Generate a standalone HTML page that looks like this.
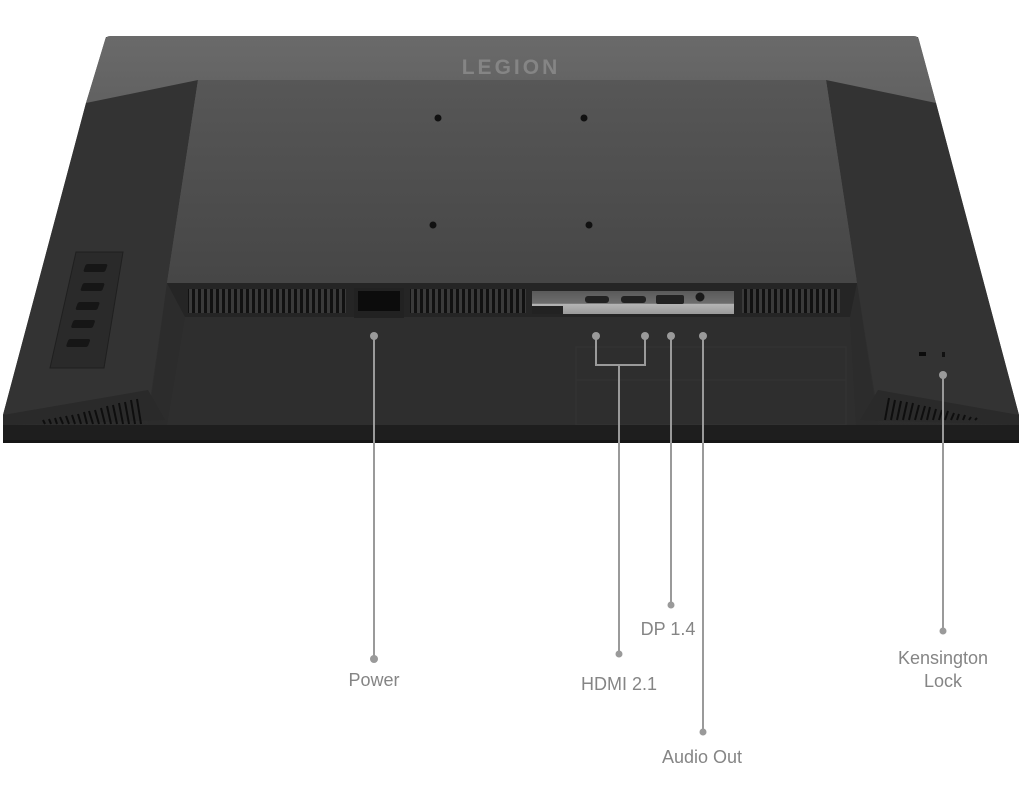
<!DOCTYPE html>
<html><head><meta charset="utf-8"><style>
html,body{margin:0;padding:0;background:#fff;}
svg{display:block}
text{font-family:"Liberation Sans",sans-serif;fill:#858585;font-size:18px;}
</style></head><body>
<svg width="1024" height="800" viewBox="0 0 1024 800" xmlns="http://www.w3.org/2000/svg">
<defs>
<linearGradient id="top" x1="0" y1="0" x2="0" y2="1"><stop offset="0" stop-color="#6a6a6a"/><stop offset="1" stop-color="#4a4a4a"/></linearGradient>
<linearGradient id="plate" x1="0" y1="0" x2="0" y2="1"><stop offset="0" stop-color="#575757"/><stop offset="1" stop-color="#464646"/></linearGradient>
<linearGradient id="side" x1="0" y1="0" x2="0" y2="1"><stop offset="0" stop-color="#3a3a3a"/><stop offset="1" stop-color="#2c2c2c"/></linearGradient>
<linearGradient id="plug" x1="0" y1="0" x2="0" y2="1"><stop offset="0" stop-color="#5a5a5a"/><stop offset="0.55" stop-color="#6e6e6e"/><stop offset="0.56" stop-color="#b5b5b5"/><stop offset="1" stop-color="#9a9a9a"/></linearGradient>
<pattern id="vent" width="6" height="40" patternUnits="userSpaceOnUse"><rect width="6" height="40" fill="#3a3a3a"/><rect width="3" height="40" fill="#111"/></pattern>
</defs>
<polygon points="106,37 918,37 936,103 1019,415 1019,442 3,442 3,415 86,103" fill="url(#side)"/>
<path d="M110,36 L914,36 Q918,36 919,40 L936,103 L855,283 L167,283 L86,103 L105,40 Q106,36 110,36Z" fill="url(#top)"/>
<polygon points="86,103 198,80 167,283 148,415 3,415" fill="#333"/>
<polygon points="936,103 826,80 857,283 878,415 1019,415" fill="#333"/>
<polygon points="198,80 826,80 857,283 167,283" fill="url(#plate)"/>
<text x="511" y="74" text-anchor="middle" style="font-size:21px;font-weight:bold;letter-spacing:3px;fill:#858585">LEGION</text>
<circle cx="438" cy="118" r="3.5" fill="#111"/><circle cx="584" cy="118" r="3.5" fill="#111"/>
<circle cx="433" cy="225" r="3.5" fill="#111"/><circle cx="589" cy="225" r="3.5" fill="#111"/>
<polygon points="167,283 857,283 878,425 148,425" fill="#2c2c2c"/>
<polygon points="167,283 857,283 850,317 185,317" fill="#252525"/>
<polygon points="185,317 850,317 856,425 167,425" fill="#2e2e2e"/>
<rect x="576" y="347" width="270" height="78" fill="none" stroke="#343434"/>
<line x1="576" y1="380" x2="846" y2="380" stroke="#343434"/>
<rect x="188" y="289" width="158" height="24" fill="url(#vent)"/>
<rect x="410" y="289" width="116" height="24" fill="url(#vent)"/>
<rect x="742" y="289" width="98" height="24" fill="url(#vent)"/>
<rect x="354" y="288" width="50" height="30" fill="#222"/>
<rect x="358" y="291" width="42" height="20" fill="#0c0c0c"/>
<rect x="532" y="291" width="202" height="23" fill="url(#plug)"/>
<rect x="532" y="306" width="31" height="8" fill="#222"/>
<rect x="585" y="296" width="24" height="7" rx="3" fill="#222"/>
<rect x="621" y="296" width="25" height="7" rx="3" fill="#222"/>
<rect x="656" y="295" width="28" height="9" rx="2" fill="#222"/>
<circle cx="700" cy="297" r="4.5" fill="#1a1a1a"/>
<polygon points="3,415 148,390 165,420 3,425" fill="#2a2a2a"/>
<g stroke="#0e0e0e" stroke-width="2">
<line x1="45" y1="424" x2="43" y2="420"/><line x1="51" y1="424" x2="49" y2="419"/><line x1="57" y1="424" x2="55" y2="418"/><line x1="63" y1="424" x2="60" y2="417"/><line x1="69" y1="424" x2="66" y2="416"/><line x1="75" y1="424" x2="72" y2="415"/><line x1="81" y1="424" x2="78" y2="414"/><line x1="87" y1="424" x2="84" y2="412"/><line x1="93" y1="424" x2="89" y2="411"/><line x1="99" y1="424" x2="95" y2="410"/><line x1="105" y1="424" x2="101" y2="408"/><line x1="111" y1="424" x2="107" y2="406"/><line x1="117" y1="424" x2="113" y2="405"/><line x1="123" y1="424" x2="119" y2="403"/><line x1="129" y1="424" x2="125" y2="402"/><line x1="135" y1="424" x2="131" y2="400"/><line x1="141" y1="424" x2="137" y2="399"/>
</g>
<polygon points="1019,415 878,390 860,420 1019,425" fill="#2a2a2a"/>
<g stroke="#0e0e0e" stroke-width="2">
<line x1="885" y1="420" x2="889" y2="398"/><line x1="891" y1="420" x2="895" y2="400"/><line x1="897" y1="420" x2="901" y2="401"/><line x1="903" y1="420" x2="907" y2="402"/><line x1="909" y1="420" x2="913" y2="403"/><line x1="915" y1="420" x2="919" y2="405"/><line x1="921" y1="420" x2="925" y2="406"/><line x1="927" y1="420" x2="930" y2="407"/><line x1="933" y1="420" x2="936" y2="409"/><line x1="939" y1="420" x2="942" y2="410"/><line x1="945" y1="420" x2="948" y2="411"/><line x1="951" y1="420" x2="954" y2="413"/><line x1="957" y1="420" x2="959" y2="414"/><line x1="963" y1="420" x2="965" y2="415"/><line x1="969" y1="420" x2="971" y2="417"/><line x1="975" y1="420" x2="977" y2="418"/>
</g>
<rect x="3" y="425" width="1016" height="17" fill="#1e1e1e"/>
<rect x="3" y="440" width="1016" height="3" fill="#151515"/>
<polygon points="76,252 123,252 104,368 50,368" fill="#2a2a2a" stroke="#1f1f1f"/>
<g fill="#161616">
<rect x="86" y="264" width="22" height="8" rx="2" transform="skewX(-20) translate(96,0)"/>
<rect x="84" y="283" width="22" height="8" rx="2" transform="skewX(-20) translate(102,0)"/>
<rect x="80" y="302" width="22" height="8" rx="2" transform="skewX(-20) translate(108,0)"/>
<rect x="76" y="320" width="22" height="8" rx="2" transform="skewX(-20) translate(114,0)"/>
<rect x="72" y="339" width="22" height="8" rx="2" transform="skewX(-20) translate(120,0)"/>
</g>
<rect x="919" y="352" width="7" height="4" fill="#0c0c0c"/>
<rect x="942" y="352" width="3" height="5" fill="#111"/>
<g stroke="#9a9a9a" stroke-width="2" fill="none">
<line x1="374" y1="336" x2="374" y2="659"/>
<polyline points="596,336 596,365 645,365 645,336"/>
<line x1="619" y1="365" x2="619" y2="654"/>
<line x1="671" y1="336" x2="671" y2="605"/>
<line x1="703" y1="336" x2="703" y2="732"/>
<line x1="943" y1="375" x2="943" y2="631"/>
</g>
<g fill="#9a9a9a">
<circle cx="374" cy="336" r="4"/><circle cx="374" cy="659" r="4"/>
<circle cx="596" cy="336" r="4"/><circle cx="645" cy="336" r="4"/><circle cx="619" cy="654" r="3.5"/>
<circle cx="671" cy="336" r="4"/><circle cx="671" cy="605" r="3.5"/>
<circle cx="703" cy="336" r="4"/><circle cx="703" cy="732" r="3.5"/>
<circle cx="943" cy="375" r="4"/><circle cx="943" cy="631" r="3.5"/>
</g>
<text x="374" y="686" text-anchor="middle">Power</text>
<text x="619" y="690" text-anchor="middle">HDMI 2.1</text>
<text x="668" y="635" text-anchor="middle">DP 1.4</text>
<text x="702" y="763" text-anchor="middle">Audio Out</text>
<text x="943" y="664" text-anchor="middle">Kensington</text>
<text x="943" y="687" text-anchor="middle">Lock</text>
</svg>
</body></html>
